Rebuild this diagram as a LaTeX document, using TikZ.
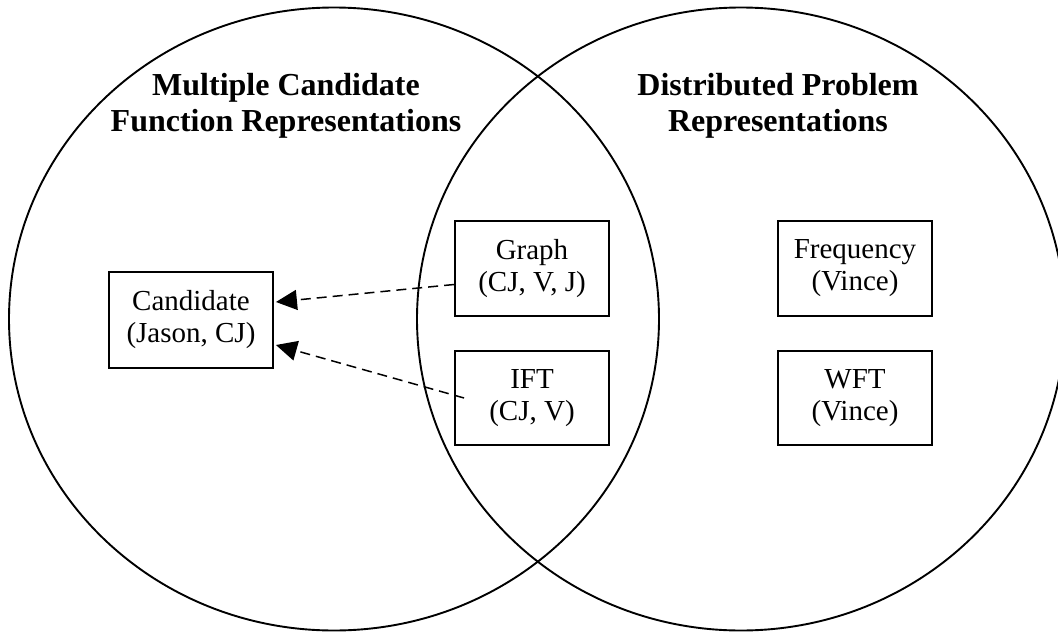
\documentclass[tikz,border=0pt]{standalone}
\usepackage{fontspec}
\setmainfont{Liberation Serif}
\usetikzlibrary{arrows.meta}
\tikzset{
  venn/.style={line width=1.9pt},
  boxnode/.style={draw, line width=1.9pt, inner sep=0pt, align=center,
    font=\fontsize{29}{32}\selectfont},
  title/.style={align=center, inner sep=0pt, font=\fontsize{32}{36.7}\selectfont\bfseries},
  dasharrow/.style={line width=1.5pt, dash pattern=on 10pt off 6pt,
    -{Triangle[length=21pt,width=20pt]}}
}
\begin{document}
\begin{tikzpicture}[x=1pt,y=-1pt]
\useasboundingbox (0,0) rectangle (1058,632);
\clip (0,0) rectangle (1058,632);
\draw[venn] (334,319) ellipse [x radius=325pt, y radius=311.5pt];
\draw[venn] (741,319) ellipse [x radius=324pt, y radius=311.5pt];

\node[title] (tl) at (286,105.8) {Multiple Candidate\\Function Representations};
\node[title] (tr) at (778,105.8) {Distributed Problem\\Representations};

\node[boxnode, minimum width=164pt, minimum height=96pt] (cand) at (191,320) {Candidate\\(Jason, CJ)};
\node[boxnode, minimum width=154pt, minimum height=95pt] (graph) at (532,268.5) {Graph\\(CJ, V, J)};
\node[boxnode, minimum width=154pt, minimum height=94pt] (ift) at (532,398) {IFT\\(CJ, V)};
\node[boxnode, minimum width=154pt, minimum height=95pt] (freq) at (855,268.5) {Frequency\\(Vince)};
\node[boxnode, minimum width=154pt, minimum height=94pt] (wft) at (855,398) {WFT\\(Vince)};

\draw[dasharrow] ([yshift=-16pt]graph.west) -- ([xshift=2pt,yshift=18pt]cand.east);
\draw[dasharrow] ([xshift=10pt]ift.west) -- ([xshift=2pt,yshift=-25pt]cand.east);
\end{tikzpicture}
\end{document}
